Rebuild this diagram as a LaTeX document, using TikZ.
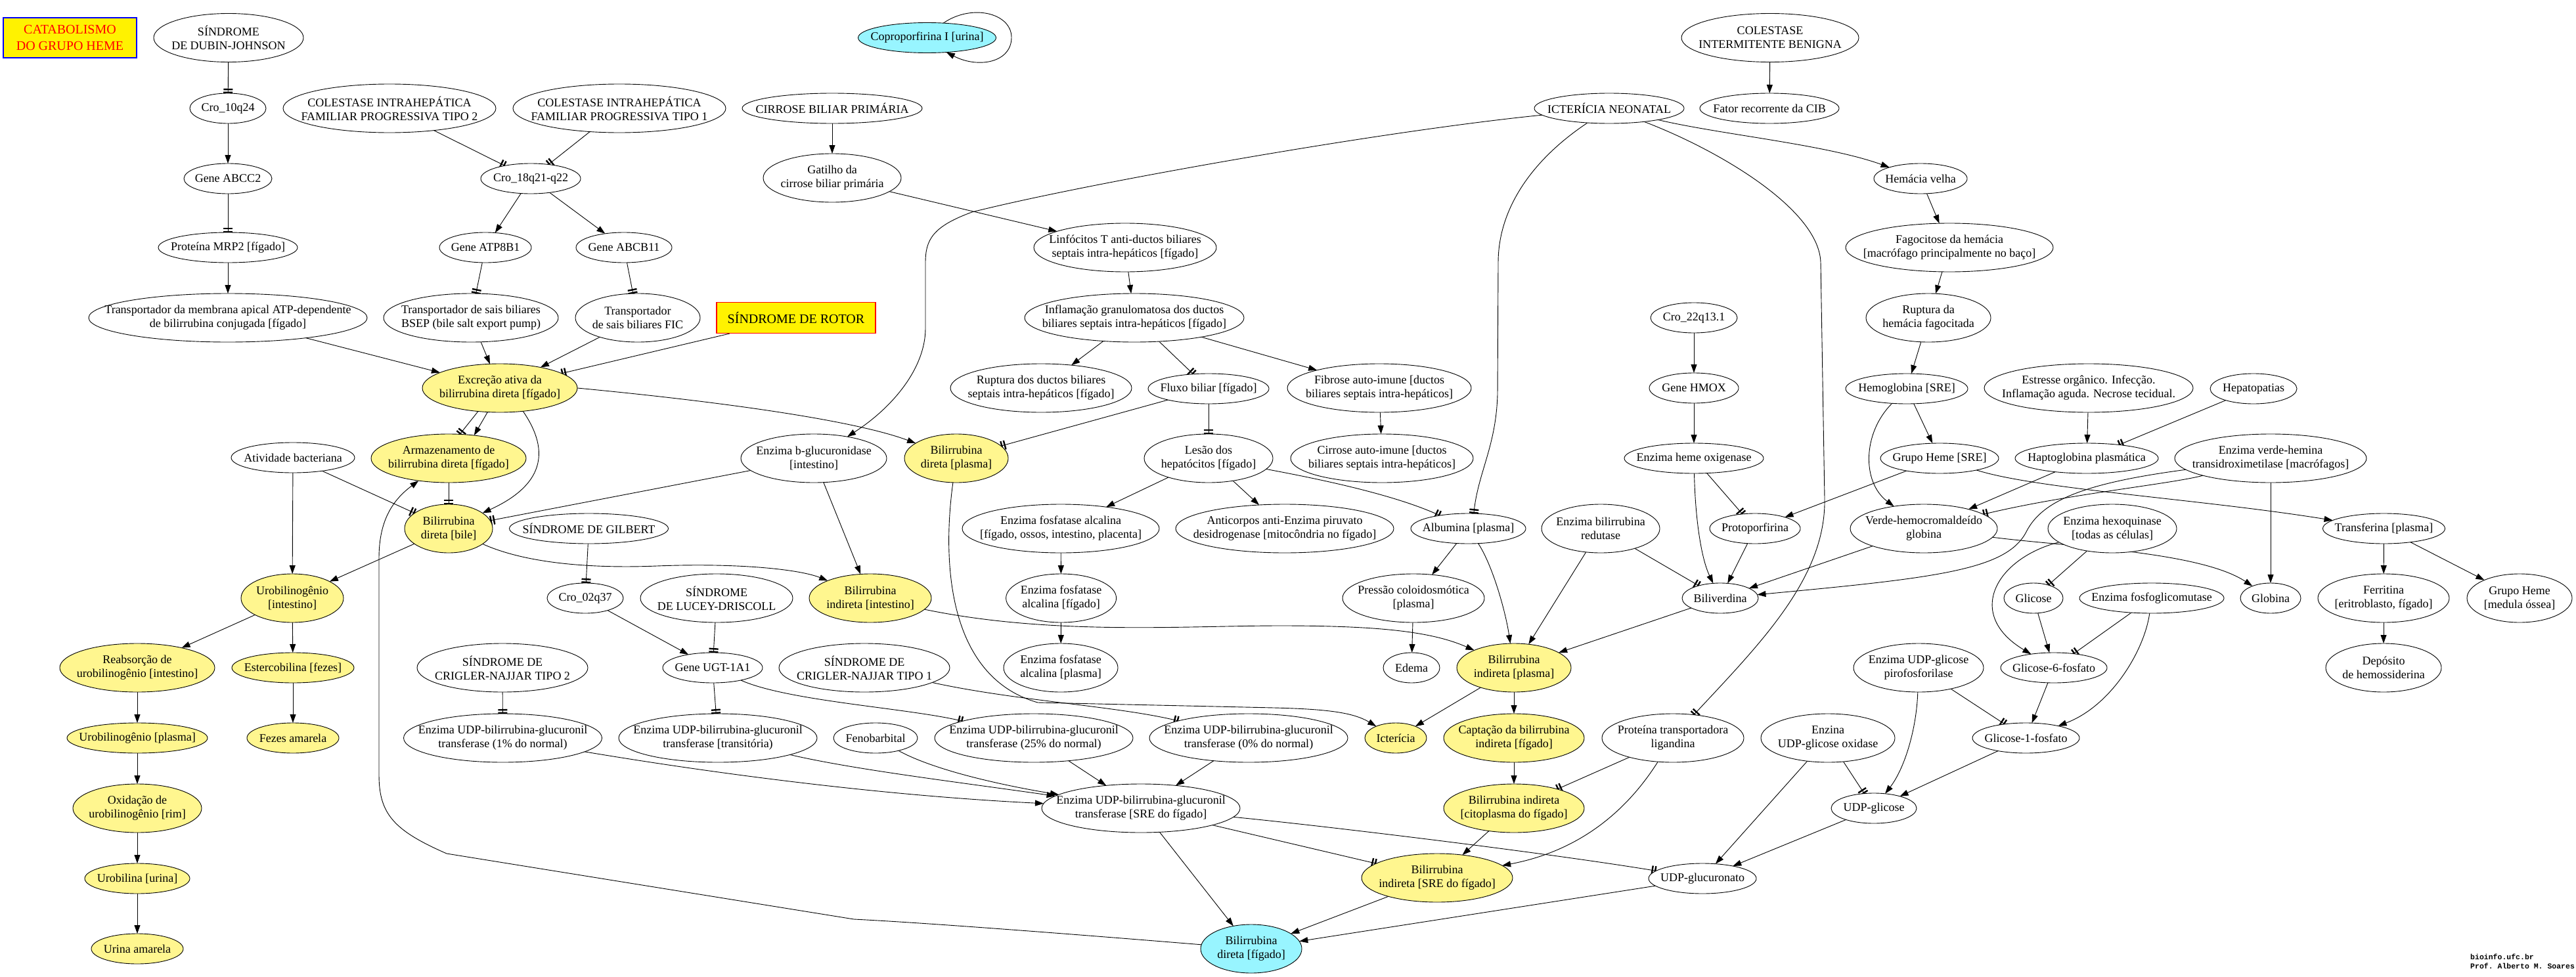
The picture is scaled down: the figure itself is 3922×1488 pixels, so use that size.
\documentclass[tikz,border=0pt]{standalone}
\usepackage{fontspec}
\setmainfont{Liberation Serif}
\setmonofont{Liberation Mono}
\usetikzlibrary{shapes.geometric,arrows.meta}
\pgfdeclarelayer{bgwhite}
\pgfdeclarelayer{edges}
\pgfsetlayers{bgwhite,edges,main}
\definecolor{ye}{RGB}{255,246,143}
\definecolor{cy}{RGB}{152,245,255}
\tikzset{
  ell/.style={ellipse,draw,line width=0.9pt,inner sep=0pt,outer sep=0pt},
  txt/.style={align=center,inner sep=0pt,font=\fontsize{18}{21}\selectfont},
  ar/.style={-{Triangle[length=13pt,width=9pt]}},
  tb/.style={-{Bar[width=14pt,line width=2.4pt,sep=2.2pt]Bar[width=14pt,line width=2.4pt]}},
}
\newcommand\enode[7][white]{%
  \node[ell,fill=#1,minimum width=#5pt,minimum height=#6pt] (#2) at (#3,#4) {};%
  \node[txt] (#2t) at (#3,#4) {#7};}
\begin{document}
\begin{tikzpicture}[x=1pt,y=-1pt]
\useasboundingbox (0,0) rectangle (3922,1488);
\begin{pgfonlayer}{bgwhite}
\fill[white] (0,0) rectangle (3922,1488);
\end{pgfonlayer}

% boxes
\node[draw=blue,line width=1.3pt,fill=yellow,text=red,align=center,minimum width=203pt,minimum height=61pt,inner sep=0pt,font=\fontsize{20}{25}\selectfont] (title) at (106.5,57.5) {CATABOLISMO\\DO GRUPO HEME};
\node[draw=red,line width=1.1pt,fill=yellow,minimum width=242pt,minimum height=47pt,inner sep=0pt,font=\fontsize{20}{24}\selectfont] (rotor) at (1212,484) {SÍNDROME DE ROTOR};
\node[anchor=north west,align=left,inner sep=0pt,font=\ttfamily\bfseries\fontsize{11.5}{13.5}\selectfont] (foot) at (3761,1453) {bioinfo.ufc.br\\Prof. Alberto M. Soares};

% nodes
\enode{dj}{348}{57.5}{228}{74}{SÍNDROME\\DE DUBIN-JOHNSON}
\enode[cy]{copro}{1411.5}{57.5}{210}{46}{Coproporfirina I [urina]}
\enode{cib}{2695}{57.5}{270}{74}{COLESTASE\\INTERMITENTE BENIGNA}
\enode{cro10}{347}{165}{116}{46}{Cro\_10q24}
\enode{cifp2}{593}{165}{324}{74}{COLESTASE INTRAHEPÁTICA\\FAMILIAR PROGRESSIVA TIPO 2}
\enode{cifp1}{943}{165}{324}{74}{COLESTASE INTRAHEPÁTICA\\FAMILIAR PROGRESSIVA TIPO 1}
\enode{cbp}{1267}{165}{274}{46}{CIRROSE BILIAR PRIMÁRIA}
\enode{icn}{2450}{165}{228}{46}{ICTERÍCIA NEONATAL}
\enode{fator}{2694}{165}{212}{46}{Fator recorrente da CIB}
\enode{abcc2}{347}{272}{134}{46}{Gene ABCC2}
\enode{cro18}{808}{272}{152}{46}{Cro\_18q21-q22}
\enode{gatilho}{1267}{271}{210}{74}{Gatilho da\\cirrose biliar primária}
\enode{hemvelha}{2924}{272}{142}{46}{Hemácia velha}
\enode{mrp2}{347}{377}{212}{46}{Proteína MRP2 [fígado]}
\enode{atp8b1}{739}{377}{140}{46}{Gene ATP8B1}
\enode{abcb11}{950}{377}{146}{46}{Gene ABCB11}
\enode{linfo}{1713}{377}{278}{74}{Linfócitos T anti-ductos biliares\\septais intra-hepáticos [fígado]}
\enode{fagoc}{2968}{377}{316}{74}{Fagocitose da hemácia\\\relax[macrófago principalmente no baço]}
\enode{tmaatp}{347}{484}{424}{74}{Transportador da membrana apical ATP-dependente\\de bilirrubina conjugada [fígado]}
\enode{bsep}{717}{484}{266}{74}{Transportador de sais biliares\\BSEP (bile salt export pump)}
\enode{fic}{971}{484}{190}{74}{Transportador\\de sais biliares FIC}
\enode{inflam}{1727}{484}{334}{74}{Inflamação granulomatosa dos ductos\\biliares septais intra-hepáticos [fígado]}
\enode{cro22}{2579}{484}{132}{46}{Cro\_22q13.1}
\enode{ruptH}{2936}{484}{190}{74}{Ruptura da\\hemácia fagocitada}
\enode[ye]{excr}{761}{591}{236}{74}{Excreção ativa da\\bilirrubina direta [fígado]}
\enode{ruptD}{1585}{591}{276}{74}{Ruptura dos ductos biliares\\septais intra-hepáticos [fígado]}
\enode{fluxo}{1840}{592}{184}{46}{Fluxo biliar [fígado]}
\enode{fibrose}{2100}{591}{280}{74}{Fibrose auto-imune [ductos\\biliares septais intra-hepáticos]}
\enode{hmox}{2579}{591}{136}{46}{Gene HMOX}
\enode{hemoglob}{2903}{592}{186}{46}{Hemoglobina [SRE]}
\enode{estresse}{3180}{591}{318}{74}{Estresse orgânico. Infecção.\\Inflamação aguda. Necrose tecidual.}
\enode{hepatop}{3431}{592}{132}{46}{Hepatopatias}
\enode{ativ}{446}{697}{188}{46}{Atividade bacteriana}
\enode[ye]{armaz}{683}{698}{236}{74}{Armazenamento de\\bilirrubina direta [fígado]}
\enode{bglu}{1239}{698}{222}{74}{Enzima b-glucuronidase\\\relax[intestino]}
\enode[ye]{bdplasma}{1456}{698}{158}{74}{Bilirrubina\\direta [plasma]}
\enode{lesao}{1840}{698}{196}{74}{Lesão dos\\hepatócitos [fígado]}
\enode{cirrAI}{2104}{698}{278}{74}{Cirrose auto-imune [ductos\\biliares septais intra-hepáticos]}
\enode{hemeox}{2579}{698}{212}{46}{Enzima heme oxigenase}
\enode{gheme}{2953}{698}{180}{46}{Grupo Heme [SRE]}
\enode{hapto}{3177}{698}{218}{46}{Haptoglobina plasmática}
\enode{verdeenz}{3457}{698}{292}{74}{Enzima verde-hemina\\transidroximetilase [macrófagos]}
\enode[ye]{bdbile}{683}{805}{134}{74}{Bilirrubina\\direta [bile]}
\enode{gilbert}{896.5}{805}{242}{46}{SÍNDROME DE GILBERT}
\enode{fosfA}{1615}{805}{300}{74}{Enzima fosfatase alcalina\\\relax[fígado, ossos, intestino, placenta]}
\enode{anticorpos}{1956}{805}{332}{74}{Anticorpos anti-Enzima piruvato\\desidrogenase [mitocôndria no fígado]}
\enode{albumina}{2235.5}{805}{175}{46}{Albumina [plasma]}
\enode{bilired}{2437}{805}{180}{74}{Enzima bilirrubina\\redutase}
\enode{protop}{2672}{805}{138}{46}{Protoporfirina}
\enode{verdeH}{2929}{805}{224}{74}{Verde-hemocromaldeído\\globina}
\enode{hexoq}{3216}{805}{196}{74}{Enzima hexoquinase\\\relax[todas as células]}
\enode{transf}{3629.5}{805}{186}{46}{Transferina [plasma]}
\enode[ye]{urobInt}{445}{911}{156}{74}{Urobilinogênio\\\relax[intestino]}
\enode{cro02}{891}{911}{116}{46}{Cro\_02q37}
\enode{lucey}{1091}{911}{232}{74}{SÍNDROME\\DE LUCEY-DRISCOLL}
\enode[ye]{biInt}{1325}{911}{186}{74}{Bilirrubina\\indireta [intestino]}
\enode{fosfF}{1615.6}{911}{168}{74}{Enzima fosfatase\\alcalina [fígado]}
\enode{pressao}{2152}{911}{216}{74}{Pressão coloidosmótica\\\relax[plasma]}
\enode{biliv}{2619}{911}{116}{46}{Biliverdina}
\enode{glicose}{3096}{911}{90}{46}{Glicose}
\enode{fosfoglic}{3276}{911}{220}{46}{Enzima fosfoglicomutase}
\enode{globina}{3457}{911}{92}{46}{Globina}
\enode{ferritina}{3629}{911}{200}{74}{Ferritina\\\relax[eritroblasto, fígado]}
\enode{ghMO}{3836}{911}{160}{74}{Grupo Heme\\\relax[medula óssea]}
\enode[ye]{reabs}{209}{1017}{236}{74}{Reabsorção de\\urobilinogênio [intestino]}
\enode[ye]{esterco}{446}{1017}{186}{46}{Estercobilina [fezes]}
\enode{cn2}{765}{1017}{260}{74}{SÍNDROME DE\\CRIGLER-NAJJAR TIPO 2}
\enode{ugt}{1085}{1017}{152}{46}{Gene UGT-1A1}
\enode{cn1}{1316}{1017}{260}{74}{SÍNDROME DE\\CRIGLER-NAJJAR TIPO 1}
\enode{fosfP}{1615}{1017}{174}{74}{Enzima fosfatase\\alcalina [plasma]}
\enode{edema}{2149}{1017}{86}{46}{Edema}
\enode[ye]{biPlasma}{2305}{1017}{174}{74}{Bilirrubina\\indireta [plasma]}
\enode{udpgpiro}{2921}{1017}{198}{74}{Enzima UDP-glicose\\pirofosforilase}
\enode{g6p}{3127}{1017}{162}{46}{Glicose-6-fosfato}
\enode{deposito}{3629}{1017}{176}{74}{Depósito\\de hemossiderina}
\enode[ye]{uroPl}{209}{1124}{214}{46}{Urobilinogênio [plasma]}
\enode[ye]{fezes}{446}{1124}{140}{46}{Fezes amarela}
\enode{udp1}{765.5}{1124}{302}{74}{Enzima UDP-bilirrubina-glucuronil\\transferase (1\% do normal)}
\enode{udpT}{1093}{1124}{302}{74}{Enzima UDP-bilirrubina-glucuronil\\transferase [transitória)}
\enode{fenob}{1333}{1124}{128}{46}{Fenobarbital}
\enode{udp25}{1574}{1124}{302}{74}{Enzima UDP-bilirrubina-glucuronil\\transferase (25\% do normal)}
\enode{udp0}{1901}{1124}{302}{74}{Enzima UDP-bilirrubina-glucuronil\\transferase (0\% do normal)}
\enode[ye]{icter}{2125}{1124}{94}{46}{Icterícia}
\enode[ye]{captacao}{2305}{1124}{214}{74}{Captação da bilirrubina\\indireta [fígado]}
\enode{ligandina}{2547}{1124}{216}{74}{Proteína transportadora\\ligandina}
\enode{udpgox}{2783}{1124}{204}{74}{Enzina\\UDP-glicose oxidase}
\enode{g1p}{3084.5}{1124}{163}{46}{Glicose-1-fosfato}
\enode[ye]{oxid}{209}{1231}{196}{74}{Oxidação de\\urobilinogênio [rim]}
\enode{udpSRE}{1737}{1231}{302}{74}{Enzima UDP-bilirrubina-glucuronil\\transferase [SRE do fígado]}
\enode[ye]{biCito}{2305}{1231}{214}{74}{Bilirrubina indireta\\\relax[citoplasma do fígado]}
\enode{udpglic}{2853}{1231}{130}{46}{UDP-glicose}
\enode[ye]{urobilina}{209}{1338}{160}{46}{Urobilina [urina]}
\enode[ye]{biSRE}{2188}{1337}{230}{74}{Bilirrubina\\indireta [SRE do fígado]}
\enode{udpgluc}{2592}{1338}{164}{46}{UDP-glucuronato}
\enode[ye]{urina}{209}{1445}{140}{46}{Urina amarela}
\enode[cy]{bdfig}{1905}{1445}{154}{74}{Bilirrubina\\direta [fígado]}

\begin{pgfonlayer}{edges}
\begin{scope}[line width=0.9pt]
\draw[tb] (dj) -- (cro10);
\draw[ar] (cro10) -- (abcc2);
\draw[tb] (abcc2) -- (mrp2);
\draw[ar] (mrp2) -- (tmaatp);
\draw[ar] (tmaatp) -- (excr);
\draw[tb] (cifp2) -- (cro18);
\draw[tb] (cifp1) -- (cro18);
\draw[ar] (cro18) -- (atp8b1);
\draw[ar] (cro18) -- (abcb11);
\draw[tb] (atp8b1) -- (bsep);
\draw[tb] (abcb11) -- (fic);
\draw[ar] (bsep) -- (excr);
\draw[ar] (fic) -- (excr);
\draw[tb] (rotor) -- (excr);
\draw[tb] (excr.227) -- (armaz.65);
\draw[ar] (excr.243) -- (armaz.42);
\draw[ar] (excr.315) .. controls (840,690) and (825,740) .. (bdbile);
\draw[tb] (armaz) -- (bdbile);
\draw[tb] (ativ) -- (bdbile);
\draw[ar] (ativ) -- (urobInt);
\draw[tb] (bglu) -- (bdbile);
\draw[ar] (bglu) -- (biInt);
\draw[ar] (excr.east) .. controls (1100,612) and (1300,640) .. (bdplasma);
\draw[ar] (bdfig) .. controls (1600,1420) and (1400,1405) .. (1300,1400) -- (680,1300) .. controls (600,1265) and (577,1240) .. (577,1180) -- (577,850) .. controls (577,790) and (600,760) .. (armaz);
\draw[ar] (icn) .. controls (2100,200) and (1650,280) .. (1480,323) .. controls (1420,345) and (1409,365) .. (1409,400) -- (1409,500) .. controls (1409,560) and (1360,620) .. (bglu);
\draw[ar] (cbp) -- (gatilho);
\draw[ar] (gatilho) -- (linfo);
\draw[ar] (copro.42) .. controls (1480,5) and (1540,20) .. (1540,57) .. controls (1540,95) and (1490,105) .. (copro.-37);
\draw[ar] (linfo) -- (inflam);
\draw[ar] (inflam) -- (ruptD);
\draw[tb] (inflam) -- (fluxo);
\draw[ar] (inflam) -- (fibrose);
\draw[ar] (fibrose) -- (cirrAI);
\draw[tb] (fluxo) -- (bdplasma);
\draw[tb] (fluxo) -- (lesao);
\draw[ar] (lesao) -- (fosfA);
\draw[ar] (lesao) -- (anticorpos);
\draw[tb] (lesao) .. controls (2000,728) and (2120,752) .. (albumina);
\draw[tb] (icn) .. controls (2330,245) and (2281,320) .. (2281,400) -- (2280,600) .. controls (2278,680) and (2250,720) .. (albumina.70);
\draw[ar] (icn) .. controls (2620,205) and (2780,220) .. (hemvelha);
\draw[tb] (icn) .. controls (2620,230) and (2770,320) .. (2772,400) -- (2778,760) .. controls (2780,880) and (2680,980) .. (ligandina.48);
\draw[ar] (cib) -- (fator);
\draw[ar] (hemvelha) -- (fagoc);
\draw[ar] (fagoc) -- (ruptH);
\draw[ar] (ruptH) -- (hemoglob);
\draw[ar] (hemoglob) -- (gheme);
\draw[ar] (hemoglob) .. controls (2835,660) and (2835,735) .. (verdeH);
\draw[ar] (cro22) -- (hmox);
\draw[ar] (hmox) -- (hemeox);
\draw[ar] (hemeox) .. controls (2581,790) and (2590,850) .. (biliv);
\draw[tb] (hemeox) -- (protop);
\draw[ar] (gheme) -- (protop);
\draw[ar] (gheme) .. controls (3100,745) and (3350,760) .. (transf);
\draw[ar] (estresse) -- (hapto);
\draw[tb] (hepatop) -- (hapto);
\draw[ar] (hapto) -- (verdeH);
\draw[tb] (verdeenz) .. controls (3300,738) and (3150,752) .. (verdeH);
\draw[ar] (verdeenz) .. controls (3180,735) and (3110,760) .. (3085,810) .. controls (3055,868) and (2950,880) .. (biliv);
\draw[ar] (verdeenz) -- (globina);
\draw[ar] (verdeH) -- (biliv);
\draw[ar] (verdeH) .. controls (3150,833) and (3350,840) .. (globina);
\draw[ar] (protop) -- (biliv);
\draw[ar] (bilired) -- (biPlasma);
\draw[tb] (bilired) -- (biliv);
\draw[ar] (biliv) -- (biPlasma);
\draw[ar] (albumina) -- (pressao);
\draw[ar] (albumina) .. controls (2272,860) and (2292,930) .. (biPlasma);
\draw[ar] (pressao) -- (edema);
\draw[ar] (biInt) .. controls (1600,968) and (1800,953) .. (1950,953) .. controls (2100,953) and (2180,962) .. (biPlasma);
\draw[ar] (bdbile) .. controls (800,858) and (900,866) .. (1000,862) .. controls (1130,857) and (1220,868) .. (biInt);
\draw[ar] (bdbile) -- (urobInt);
\draw[ar] (urobInt) -- (reabs);
\draw[ar] (urobInt) -- (esterco);
\draw[ar] (esterco) -- (fezes);
\draw[ar] (reabs) -- (uroPl);
\draw[ar] (uroPl) -- (oxid);
\draw[ar] (oxid) -- (urobilina);
\draw[ar] (urobilina) -- (urina);
\draw[tb] (gilbert) -- (cro02);
\draw[ar] (cro02) -- (ugt);
\draw[tb] (lucey) -- (ugt);
\draw[tb] (ugt) -- (udpT);
\draw[tb] (cn2) -- (udp1);
\draw[tb] (ugt) .. controls (1200,1068) and (1380,1078) .. (udp25);
\draw[tb] (cn1) .. controls (1550,1068) and (1700,1075) .. (udp0);
\draw[ar] (bdplasma) .. controls (1435,850) and (1440,1030) .. (1580,1070) -- (1940,1078) .. controls (2020,1080) and (2060,1085) .. (icter);
\draw[ar] (biPlasma) -- (icter);
\draw[ar] (biPlasma) -- (captacao);
\draw[ar] (captacao) -- (biCito);
\draw[tb] (ligandina) -- (biCito);
\draw[ar] (ligandina) .. controls (2480,1230) and (2410,1295) .. (biSRE);
\draw[ar] (biCito) -- (biSRE);
\draw[tb] (udpSRE) -- (biSRE);
\draw[tb] (udpSRE) .. controls (2000,1256) and (2350,1298) .. (udpgluc);
\draw[ar] (udpSRE) -- (bdfig);
\draw[ar] (biSRE) -- (bdfig);
\draw[ar] (udpgluc) -- (bdfig);
\draw[ar] (udp1) .. controls (1100,1180) and (1350,1212) .. (udpSRE);
\draw[ar] (udpT) .. controls (1300,1172) and (1450,1190) .. (udpSRE);
\draw[ar] (fenob) .. controls (1420,1172) and (1520,1195) .. (udpSRE);
\draw[ar] (udp25) -- (udpSRE);
\draw[ar] (udp0) -- (udpSRE);
\draw[ar] (fosfA) -- (fosfF);
\draw[ar] (fosfF) -- (fosfP);
\draw[ar] (udpgpiro) .. controls (2918,1110) and (2900,1170) .. (udpglic);
\draw[tb] (udpgpiro) -- (g1p);
\draw[tb] (udpgox) -- (udpglic);
\draw[ar] (udpgox) -- (udpgluc);
\draw[ar] (udpglic) -- (udpgluc);
\draw[ar] (g1p) -- (udpglic);
\draw[ar] (g6p) -- (g1p);
\draw[ar] (glicose) -- (g6p);
\draw[tb] (hexoq) -- (glicose);
\draw[ar] (hexoq) .. controls (3040,850) and (2990,935) .. (g6p);
\draw[tb] (fosfoglic) -- (g6p);
\draw[ar] (fosfoglic) .. controls (3265,990) and (3215,1075) .. (g1p);
\draw[ar] (transf) -- (ferritina);
\draw[ar] (transf) -- (ghMO);
\draw[ar] (ferritina) -- (deposito);
\end{scope}
\end{pgfonlayer}
\end{tikzpicture}
\end{document}
